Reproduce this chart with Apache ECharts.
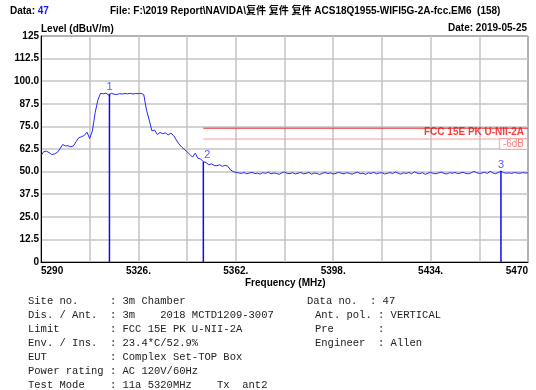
<!DOCTYPE html>
<html><head><meta charset="utf-8">
<script src="https://cdn.jsdelivr.net/npm/echarts@6/dist/echarts.min.js"></script>
<style>html,body{margin:0;padding:0;background:#fff}#c{width:536px;height:390px}</style>
</head><body><div id="c"></div>
<script>
// ---- data ----
const freqStart = 5290, freqEnd = 5470, freqStep = 1;
const traceLevels = [
  58.8, 61.0, 61.3, 60.5, 59.4, 59.8, 60.6, 62.5, 65.0, 64.2,
  64.3, 63.7, 64.2, 66.6, 68.8, 69.3, 70.0, 71.8, 68.3, 72.5,
  82.5, 89.5, 93.3, 93.0, 93.4, 92.4, 93.3, 92.8, 92.6, 93.1,
  92.9, 93.2, 93.0, 93.3, 92.9, 93.2, 93.1, 93.3, 92.5, 84.0,
  78.5, 72.5, 73.0, 70.5, 71.6, 71.0, 71.4, 70.3, 71.2, 70.0,
  67.5, 65.3, 63.6, 62.3, 61.0, 59.5, 58.0, 60.2, 57.4, 57.0,
  55.5, 55.0, 53.8, 54.3, 53.4, 53.2, 53.8, 52.9, 53.5, 53.0,
  51.0, 50.0, 49.6,
  49.3, 49.0, 49.5, 48.8, 49.2, 49.6, 48.9, 49.1, 48.6, 49.4,
  49.0, 49.7, 48.8, 49.2, 49.0, 48.5, 49.3, 49.8, 49.0, 48.9,
  49.4, 48.7, 49.1, 49.5, 48.8, 49.0, 49.6, 48.6, 49.2, 49.0,
  48.4, 49.1, 49.5, 48.9, 49.3, 48.7, 49.0, 49.6, 49.1, 48.8,
  49.4, 49.0, 48.6, 49.2, 49.7, 48.9, 49.1, 48.5, 49.3, 49.0,
  49.6, 48.8, 49.2, 49.4, 48.7, 49.0, 49.5, 48.9, 49.8, 49.1,
  48.6, 49.3, 49.0, 49.5, 48.8, 49.9, 49.2, 48.9, 49.4, 48.5,
  49.1, 49.6, 49.0, 48.8, 49.3, 49.7, 49.0, 48.7, 49.4, 49.1,
  49.5, 48.9, 49.2, 49.6, 49.0, 48.8, 49.3, 50.1, 49.4, 49.0,
  49.2, 49.6, 49.0, 50.2, 49.3, 48.8, 49.5, 50.3, 49.4, 49.1,
  49.3, 49.0, 49.5, 49.2, 49.1, 49.4, 49.2, 49.3
];
const markerNames = ['1', '2', '3'];
const markerFreqs = [5315.3, 5350.0, 5460.0];
const markerLevels = [93.0, 55.5, 50.3];
const limitName = 'FCC 15E PK U-NII-2A';
const limitStartFreq = 5350, limitLevel = 74;
const marginName = '-6dB', marginLevel = 68;
const xTickFreqs = [5290, 5326, 5362, 5398, 5434, 5470];
const xTickLabels = ['5290', '5326.', '5362.', '5398.', '5434.', '5470'];
const yTickValues = [0, 12.5, 25, 37.5, 50, 62.5, 75, 87.5, 100, 112.5, 125];
const yTickLabels = ['0', '12.5', '25.0', '37.5', '50.0', '62.5', '75.0', '87.5', '100.0', '112.5', '125'];
const infoLeft = [
  'Site no.     : 3m Chamber',
  'Dis. / Ant.  : 3m    2018 MCTD1209-3007',
  'Limit        : FCC 15E PK U-NII-2A',
  'Env. / Ins.  : 23.4*C/52.9%',
  'EUT          : Complex Set-TOP Box',
  'Power rating : AC 120V/60Hz',
  'Test Mode    : 11a 5320MHz    Tx  ant2'
];
const infoRight = [
  'Data no.  : 47',
  'Ant. pol. : VERTICAL',
  'Pre       :',
  'Engineer  : Allen'
];

// ---- chart ----
const off = f => f - freqStart;
const chart = echarts.init(document.getElementById('c'), null, {renderer: 'canvas'});
const sans = '"Liberation Sans", Arial, sans-serif';
const series = [];
series.push({
  type: 'line', data: traceLevels.map((v, i) => [i * freqStep, v]),
  showSymbol: false, lineStyle: {color: '#2626ff', width: 1}, z: 4, silent: true
});
series.push({
  type: 'line', data: [[off(limitStartFreq), limitLevel], [off(freqEnd), limitLevel]],
  showSymbol: false, symbol: 'none', lineStyle: {color: '#e8282a', width: 1}, z: 3
});
series.push({
  type: 'scatter', symbolSize: 0, z: 6,
  data: [{value: [off(freqEnd), limitLevel], label: {
    show: true, position: 'left', distance: 4, offset: [0, 4], formatter: limitName,
    color: '#ee1010', fontFamily: sans, fontWeight: 'bold', fontSize: 10
  }}]
});
series.push({
  type: 'line', data: [[off(limitStartFreq), marginLevel], [off(freqEnd), marginLevel]],
  showSymbol: false, symbol: 'none', lineStyle: {color: '#ff9c9c', width: 1}, z: 3
});
series.push({
  type: 'scatter', symbolSize: 0, z: 6,
  data: [{value: [off(freqEnd), marginLevel], label: {
    show: true, position: 'left', distance: 1, offset: [0, 5], formatter: marginName,
    color: '#ff5a5a', fontFamily: sans, fontSize: 10, backgroundColor: '#fff',
    borderColor: '#ff9c9c', borderWidth: 1, padding: [0, 3, 0, 3]
  }}]
});
markerFreqs.forEach((f, i) => {
  series.push({
    type: 'line', data: [[off(f), 0], [off(f), markerLevels[i]]],
    showSymbol: false, symbol: 'none', lineStyle: {color: '#0a0aff', width: 1.5}, z: 5
  });
});
series.push({
  type: 'scatter', symbolSize: 0, z: 7,
  data: markerFreqs.map((f, i) => ({
    value: [off(f), markerLevels[i]], name: markerNames[i],
    label: {offset: i === 1 ? [4, 0] : [0, 0]}
  })),
  label: {show: true, position: 'top', distance: 1, formatter: p => p.name,
    color: '#2a2aff', fontFamily: sans, fontSize: 11}
});

const graphics = [
  {type: 'text', left: 10, top: 6, style: {
    text: '{a|Data: }{b|47}', rich: {
      a: {fill: '#000', font: 'bold 10px ' + sans},
      b: {fill: '#1515ff', font: 'bold 10px ' + sans}
    }}},
  {type: 'text', left: 110, top: 6, style: {
    text: 'File: F:\\2019 Report\\NAVIDA\\复件 复件 复件 ACS18Q1955-WIFI5G-2A-fcc.EM6  (158)',
    fill: '#000', font: 'bold 10px "Liberation Sans", "Noto Sans CJK SC", sans-serif'}},
  {type: 'text', right: 9, top: 23, style: {
    text: 'Date: 2019-05-25', fill: '#000', font: 'bold 10px ' + sans}},
  {type: 'text', left: 41, top: 24, style: {
    text: 'Level (dBuV/m)', fill: '#000', font: 'bold 10px ' + sans}},
  {type: 'text', left: 245, top: 278, style: {
    text: 'Frequency (MHz)', fill: '#000', font: 'bold 10px ' + sans}}
];
infoLeft.forEach((t, i) => graphics.push({type: 'text', left: 28, top: 296 + i * 14,
  style: {text: t, fill: '#222', font: '10.5px "Liberation Mono", "Courier New", monospace'}}));
infoRight.forEach((t, i) => graphics.push({type: 'text', left: i === 0 ? 307 : 315, top: 296 + i * 14,
  style: {text: t, fill: '#222', font: '10.5px "Liberation Mono", "Courier New", monospace'}}));

chart.setOption({
  animation: false,
  backgroundColor: '#fff',
  grid: {left: 41, right: 8, top: 36, bottom: 128, show: true, borderColor: '#000', borderWidth: 1, containLabel: false},
  xAxis: {
    type: 'value', min: 0, max: off(freqEnd), interval: 18,
    axisLine: {show: true, onZero: false, lineStyle: {color: '#000', width: 1}},
    axisTick: {show: false},
    splitLine: {show: true, lineStyle: {color: '#c4c4c4', width: 1.5}},
    axisLabel: {
      margin: 4, color: '#000', fontFamily: sans, fontWeight: 'bold', fontSize: 10,
      alignMinLabel: 'left', alignMaxLabel: 'right', showMinLabel: true, showMaxLabel: true,
      formatter: v => { const k = xTickFreqs.indexOf(Math.round(v + freqStart)); return k >= 0 ? xTickLabels[k] : ''; }
    }
  },
  yAxis: {
    type: 'value', min: 0, max: 125, interval: 12.5,
    axisLine: {show: true, lineStyle: {color: '#000', width: 1}},
    axisTick: {show: false},
    splitLine: {show: true, lineStyle: {color: '#c4c4c4', width: 1.5}},
    axisLabel: {
      margin: 2, color: '#000', fontFamily: sans, fontWeight: 'bold', fontSize: 10,
      formatter: v => { const k = yTickValues.indexOf(v); return k >= 0 ? yTickLabels[k] : ''; }
    }
  },
  series: series,
  graphic: graphics
});
</script></body></html>
